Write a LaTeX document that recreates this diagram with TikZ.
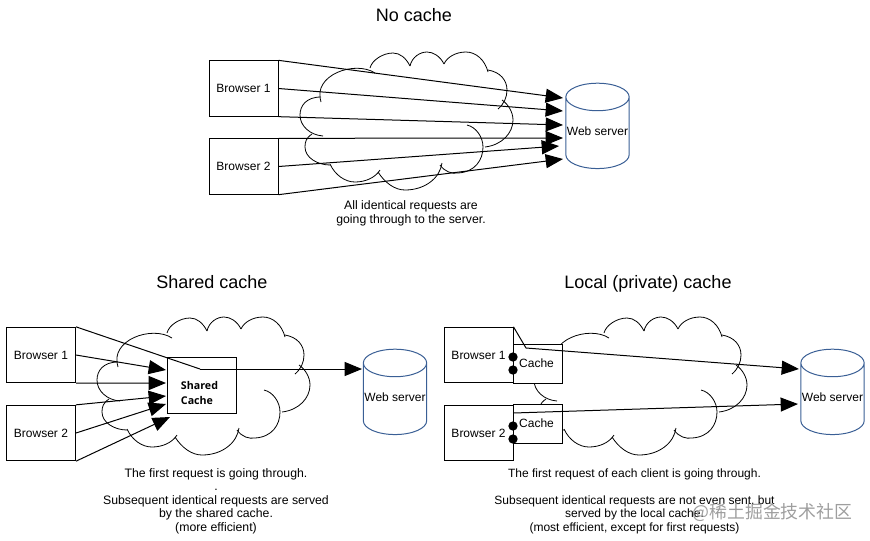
\documentclass[tikz,border=0pt]{standalone}
\usepackage{fontspec}
\setmainfont{Liberation Sans}
\newfontfamily\cachefont{Open Sans}
\newfontfamily\cjkfont{Noto Sans CJK SC}
\usepackage{xcolor}
\usetikzlibrary{arrows.meta,shapes.geometric}
\definecolor{dbblue}{HTML}{3A5F95}
\tikzset{
  browserbox/.style={draw, fill=white, line width=0.75pt, inner sep=0pt, minimum width=51.75pt, minimum height=41.5pt, font=\fontsize{9}{10}\selectfont},
  cachebox/.style={draw, fill=white, line width=0.75pt, inner sep=0pt, minimum width=36.75pt, minimum height=29.25pt, font=\fontsize{9}{10}\selectfont},
  webserver/.style={draw=dbblue, line width=0.75pt, cylinder, shape border rotate=90, aspect=0.45, inner sep=0pt, minimum width=47.5pt, minimum height=64pt, font=\fontsize{9}{10}\selectfont},
  caption/.style={align=center, inner sep=0pt, font=\fontsize{9.2}{10.1}\selectfont},
  heading/.style={inner sep=0pt, text height=10pt, text depth=3pt, font=\fontsize{13.5}{15}\selectfont},
  request/.style={-{Triangle[length=13pt,width=10.5pt]}, line width=0.75pt},
  dot/.style={circle, fill=black, inner sep=0pt, minimum size=7pt},
  cloudy/.pic={
    \draw[line width=0.6pt] (375,73) .. controls (355,60) and (312,75) .. (321,102);
    \draw[line width=0.6pt] (321,97) .. controls (306,97) and (300,106) .. (300,115) .. controls (300,126) and (310,135) .. (323,136);
    \draw[line width=0.6pt] (312,134) .. controls (306,138) and (305,142) .. (305,147) .. controls (305,158) and (318,165) .. (330,165);
    \draw[line width=0.6pt] (330,164) .. controls (335,175) and (345,182) .. (355,182) .. controls (365,182) and (375,178) .. (380,170);
    \draw[line width=0.6pt] (378,172) .. controls (385,183) and (395,190) .. (405,190) .. controls (425,190) and (440,178) .. (442,163);
    \draw[line width=0.6pt] (440,165) .. controls (445,172) and (452,174) .. (458,173) .. controls (475,172) and (483,160) .. (483,147) .. controls (483,137) and (476,127) .. (467,125);
    \draw[line width=0.6pt] (485,147) .. controls (502,145) and (513,133) .. (513,120) .. controls (513,112) and (508,104) .. (502,100);
    \draw[line width=0.6pt] (498,109) .. controls (504,104) and (507,97) .. (507,90) .. controls (507,80) and (500,72) .. (488,70);
    \draw[line width=0.6pt] (488,72) .. controls (485,60) and (476,52) .. (466,52) .. controls (456,52) and (447,57) .. (444,64);
    \draw[line width=0.6pt] (444,64) .. controls (440,56) and (433,52) .. (427,52) .. controls (420,52) and (412,57) .. (410,66);
    \draw[line width=0.6pt] (410,66) .. controls (406,58) and (400,53) .. (393,53) .. controls (383,53) and (372,60) .. (370,68);
  }
}
\newcommand{\webtext}{\smash{\raisebox{-1.5pt}{Web server}}}
\begin{document}
\begin{tikzpicture}[x=0.75pt,y=-0.75pt]
\useasboundingbox (0,0) rectangle (870,540);

% no cache
\pic at (0,0) {cloudy};
\node[heading] (titleA) at (414,17) {No cache};
\node[browserbox] (browserA1) at (243.5,88.5) {Browser 1};
\node[browserbox] (browserA2) at (243.5,166.5) {Browser 2};
\node[webserver] (webA) at (597.5,133) {\webtext};
\coordinate (inA1) at (563,98);
\coordinate (inA2) at (563,111);
\coordinate (inA3) at (563,125);
\coordinate (inA4) at (563,138);
\coordinate (inA5) at (559,146);
\coordinate (inA6) at (563,159);
\draw[request] (browserA1.north east) -- (inA1);
\draw[request] (browserA1.east) -- (inA2);
\draw[request] (browserA1.south east) -- (inA3);
\draw[request] (browserA2.north east) -- (inA4);
\draw[request] (browserA2.east) -- (inA5);
\draw[request] (browserA2.south east) -- (inA6);
\node[caption, font=\fontsize{9.2}{10.5}\selectfont] (textA) at (411,213.5) {All identical requests are\\going through to the server.};

% shared cache
\pic at (-203,265) {cloudy};
\node[heading] (titleB) at (212,284) {Shared cache};
\node[browserbox] (browserB1) at (41,355) {Browser 1};
\node[browserbox] (browserB2) at (41,433) {Browser 2};
\node[cachebox, minimum width=51.75pt, minimum height=41.5pt, align=left, font=\cachefont\bfseries\fontsize{8}{11.25}\selectfont] (shared) at (201.5,385.5) {\rule{0pt}{17pt}Shared\hspace*{3pt}\\Cache};
\node[webserver] (webB) at (395,399) {\webtext};
\coordinate (inB1) at (166,370);
\coordinate (inB2) at (166,383);
\coordinate (inB3) at (166,396);
\coordinate (inB4) at (166,404);
\coordinate (inB5) at (170,417);
\coordinate (bendB) at (200,369);
\coordinate (outB) at (362,369);
\draw[line width=0.75pt] (browserB1.north east) -- (bendB);
\draw[request] (bendB) -- (outB);
\draw[request] (browserB1.east) -- (inB1);
\draw[request] (browserB1.south east) -- (inB2);
\draw[request] (browserB2.north east) -- (inB3);
\draw[request] (browserB2.east) -- (inB4);
\draw[request] (browserB2.south east) -- (inB5);
\node[caption] (textB) at (216,501) {The first request is going through.\\.\\Subsequent identical requests are served\\by the shared cache.\\(more efficient)};

% local cache
\pic at (234,265) {cloudy};
\node[heading] (titleC) at (648,284) {Local (private) cache};
\node[browserbox] (browserC1) at (478.5,355) {Browser 1};
\node[browserbox] (browserC2) at (478.5,433) {Browser 2};
\node[cachebox] (cacheC1) at (537.5,363.5) {Cache\hspace*{1.5pt}};
\node[cachebox] (cacheC2) at (537.5,423.5) {Cache\hspace*{1.5pt}};
\node[dot] (dotC1) at (513,357) {};
\node[dot] (dotC2) at (513,370) {};
\node[dot] (dotC3) at (513,426) {};
\node[dot] (dotC4) at (513,439) {};
\node[webserver] (webC) at (832.5,399) {\webtext};
\coordinate (bendC) at (526,348);
\coordinate (startC) at (513,413);
\coordinate (inC1) at (799,369);
\coordinate (inC2) at (798,404);
\draw[line width=0.75pt] (browserC1.north east) -- (bendC);
\draw[request] (bendC) -- (inC1);
\draw[request] (startC) -- (inC2);
\node[caption, font=\fontsize{9}{10.1}\selectfont] (textC) at (634.5,501) {The first request of each client is going through.\\[10.1pt]Subsequent identical requests are not even sent, but\\served by the local cache.\\(most efficient, except for first requests)};

\node[inner sep=0pt, text=black!38, font=\cjkfont\fontsize{13.4}{15}\selectfont] (mark) at (772.5,512) {@稀土掘金技术社区};
\end{tikzpicture}
\end{document}
